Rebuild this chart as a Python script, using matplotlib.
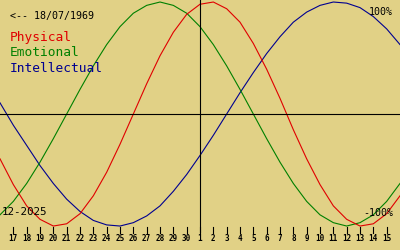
import matplotlib
matplotlib.use("Agg")
import matplotlib.pyplot as plt

# days shown on the bottom axis (17 Nov .. 15 Dec)
day_labels = ["17", "18", "19", "20", "21", "22", "23", "24", "25", "26", "27", "28", "29", "30",
              "1", "2", "3", "4", "5", "6", "7", "8", "9", "10", "11", "12", "13", "14", "15"]

# curve values, one per day, from 16 Nov to 16 Dec (one extra day on each side)
physical = [-0.40, -0.63, -0.82, -0.94, -1.00, -0.98, -0.89, -0.73, -0.52, -0.27, 0.00,
            0.27, 0.52, 0.73, 0.89, 0.98, 1.00, 0.94, 0.82, 0.63, 0.40, 0.14,
            -0.14, -0.40, -0.63, -0.82, -0.94, -1.00, -0.98, -0.89, -0.73]
emotional = [-0.90, -0.78, -0.62, -0.43, -0.22, 0.00, 0.22, 0.43, 0.62, 0.78, 0.90,
             0.97, 1.00, 0.97, 0.90, 0.78, 0.62, 0.43, 0.22, 0.00, -0.22, -0.43,
             -0.62, -0.78, -0.90, -0.97, -1.00, -0.97, -0.90, -0.78, -0.62]
intellectual = [0.10, -0.10, -0.28, -0.46, -0.62, -0.76, -0.87, -0.95, -0.99, -1.00, -0.97,
                -0.91, -0.82, -0.69, -0.54, -0.37, -0.19, 0.00, 0.19, 0.37, 0.54, 0.69,
                0.82, 0.91, 0.97, 1.00, 0.99, 0.95, 0.87, 0.76, 0.62]

birth_date = "18/07/1969"
month_label = "12-2025"
today_index = 14  # position of "1" (1 Dec)

bg = "#E1D186"
mono = "DejaVu Sans Mono"

fig = plt.figure(figsize=(4, 2.5), dpi=100, facecolor=bg)
ax = fig.add_axes([0, 0, 1, 1])
ax.set_facecolor(bg)
ax.set_axis_off()

xs = list(range(-1, len(physical) - 1))
ax.plot(xs, intellectual, color="#000090", lw=0.8)
ax.plot(xs, emotional, color="#008000", lw=0.8)
ax.plot(xs, physical, color="#E00000", lw=0.8)

ax.set_xlim(-1, 29)
ax.set_ylim(-1.214, 1.018)

# axes lines
ax.axhline(0, color="black", lw=0.8)
ax.plot([today_index, today_index], [-1.05, 1.02], color="black", lw=0.8)

# day ticks and labels
for i, lab in enumerate(day_labels):
    ax.plot([i, i], [-1.01, -1.06], color="black", lw=0.8)
    ax.text(i, -1.11, lab, ha="center", va="center", fontsize=5.5,
            fontweight="bold", family=mono)

fig.text(10 / 400, 1 - 16 / 250, "<-- " + birth_date, ha="left", va="center",
         fontsize=7.2, family=mono, color="black")
fig.text(10 / 400, 1 - 38 / 250, "Physical", ha="left", va="center",
         fontsize=9.3, family=mono, color="#E00000")
fig.text(10 / 400, 1 - 53 / 250, "Emotional", ha="left", va="center",
         fontsize=9.3, family=mono, color="#008000")
fig.text(10 / 400, 1 - 68 / 250, "Intellectual", ha="left", va="center",
         fontsize=9.3, family=mono, color="#000090")

fig.text(393 / 400, 1 - 12 / 250, "100%", ha="right", va="center",
         fontsize=7.2, family=mono, color="black")
fig.text(393 / 400, 1 - 213 / 250, "-100%", ha="right", va="center",
         fontsize=7.2, family=mono, color="black")
fig.text(2 / 400, 1 - 212 / 250, month_label, ha="left", va="center",
         fontsize=7.8, family=mono, color="black")

fig.savefig("out.png", dpi=100, facecolor=bg)
